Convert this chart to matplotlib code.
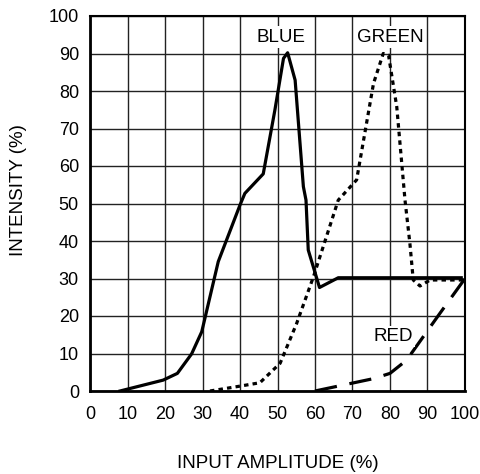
import matplotlib
matplotlib.use("Agg")
import matplotlib.pyplot as plt

# colour response curves
blue_x = [8, 19.5, 23.3, 27.1, 29.8, 34.2, 40, 41.3, 46.2, 49.3, 51.6, 52.7, 54.7, 56.9, 57.6, 58.2, 61.2, 66.2, 99]
blue_y = [0, 2.9, 4.7, 9.9, 15.8, 34.5, 49.6, 52.7, 57.9, 74.9, 88.7, 90.2, 82.9, 54.5, 50.9, 37.6, 27.6, 30.2, 30.2]

green_x = [32, 40, 45.3, 50.7, 55.1, 59.6, 66.2, 71.1, 75.6, 78.2, 79.6, 81.8, 84, 85.3, 86.2, 88, 90.7, 100]
green_y = [0, 1.3, 2.2, 7.4, 18, 30.5, 50.9, 56.3, 82, 90, 89.6, 75.8, 50.9, 39.4, 29.6, 28, 29.6, 29.6]

red_x = [60, 75.6, 80, 84.4, 93.3, 100]
red_y = [0, 3.3, 4.7, 8.2, 20.7, 30]

ticks = list(range(0, 101, 10))

plt.rcParams['font.family'] = ['Liberation Sans', 'DejaVu Sans']

fig = plt.figure(figsize=(4.81, 4.74), dpi=100)
ax = fig.add_axes([90 / 481, 1 - 391 / 474, 375 / 481, 375 / 474])

ax.plot(blue_x, blue_y, color='black', lw=2.3, solid_joinstyle='round')
ax.plot(green_x, green_y, color='black', lw=2.3, linestyle=(0, (1.4, 1.3)))
ax.plot(red_x, red_y, color='black', lw=2.3, linestyle=(0, (7, 4)))

box = dict(facecolor='white', edgecolor='none', pad=1.5)
ax.text(50.9, 94.4, 'BLUE', ha='center', va='center', fontsize=13.5, bbox=box)
ax.text(80, 94.4, 'GREEN', ha='center', va='center', fontsize=13.5, bbox=box)
ax.text(80.8, 14.5, 'RED', ha='center', va='center', fontsize=13.5, bbox=box)

ax.set_xlim(0, 100)
ax.set_ylim(0, 100)
ax.set_xticks(ticks)
ax.set_yticks(ticks)
ax.tick_params(length=0, labelsize=13)
ax.tick_params(axis='x', pad=11)
ax.tick_params(axis='y', pad=8)
ax.grid(True, color='#222222', lw=1)
ax.set_axisbelow(True)
for side in ['left', 'bottom']:
    ax.spines[side].set_linewidth(2)
for side in ['top', 'right']:
    ax.spines[side].set_linewidth(1.5)

fig.text(0.5 * (90 + 465) / 481, 1 - 463 / 474, 'INPUT AMPLITUDE (%)', ha='center', va='center', fontsize=13.5)
fig.text(18.5 / 481, 1 - 190 / 474, 'INTENSITY (%)', ha='center', va='center', rotation=90, fontsize=13.5)

fig.savefig('out.png', dpi=100)
